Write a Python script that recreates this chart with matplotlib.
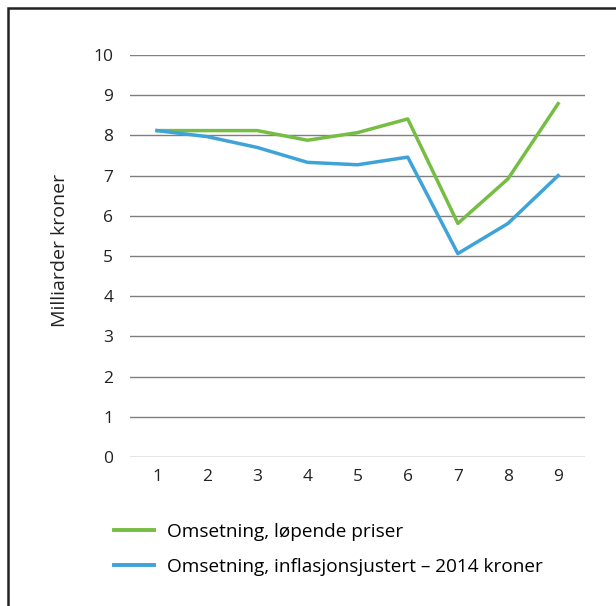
import matplotlib.pyplot as plt
from matplotlib.lines import Line2D
from matplotlib.patches import Rectangle

plt.rcParams['font.family'] = ['Open Sans', 'DejaVu Sans']

# data
years = [1, 2, 3, 4, 5, 6, 7, 8, 9]
lopende = [8.12, 8.12, 8.12, 7.88, 8.07, 8.41, 5.81, 6.92, 8.79]
justert = [8.12, 7.97, 7.70, 7.33, 7.27, 7.46, 5.06, 5.81, 7.0]
labels = ['Omsetning, løpende priser', 'Omsetning, inflasjonsjustert – 2014 kroner']

green = '#76bd43'
blue = '#3ea3d8'

fig = plt.figure(figsize=(6.16, 6.06), dpi=100)
ax = fig.add_axes([0.211, 0.2459, 0.739, 0.6633])

for y in range(0, 11):
    ax.axhline(y, color='#7f7f7f', lw=1.0, zorder=1)

ax.plot(years, lopende, color=green, lw=2.5, zorder=3)
ax.plot(years, justert, color=blue, lw=2.5, zorder=3)

ax.set_xlim(0.46, 9.54)
ax.set_ylim(0, 10)
ax.set_xticks(years)
ax.set_yticks(range(0, 11))
ax.tick_params(length=0, labelsize=12.5, colors='#222222')
ax.tick_params(axis='y', pad=12)
ax.tick_params(axis='x', pad=9)
for s in ax.spines.values():
    s.set_visible(False)
ax.set_ylabel('Milliarder kroner', fontsize=14, color='#222222')
ax.yaxis.set_label_coords(-0.133, 0.515)

handles = [Line2D([], [], color=green, lw=2.8), Line2D([], [], color=blue, lw=2.8)]
fig.legend(handles, labels, loc='upper left', bbox_to_anchor=(0.185, 0.137),
           frameon=False, fontsize=13.7, handlelength=2.1, handletextpad=0.7,
           labelspacing=0.88, borderaxespad=0, borderpad=0)

# frame round the figure (open to right and bottom as in the crop)
fig.patches.append(Rectangle((8 / 616, -0.1), 1.2, 1 - 8 / 606 + 0.1,
                             transform=fig.transFigure, fill=False,
                             edgecolor='#222222', lw=1.8))

fig.savefig('out.png', dpi=100)
